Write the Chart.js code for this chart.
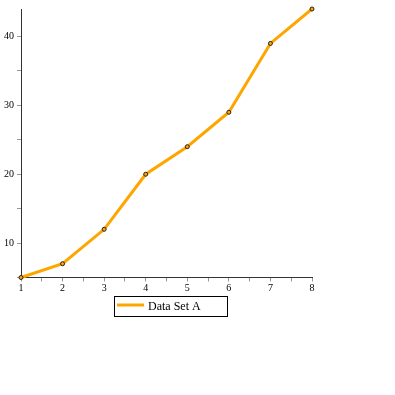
<!DOCTYPE html>
<html>
<head>
<meta charset="utf-8">
<script src="https://cdn.jsdelivr.net/npm/chart.js@4"></script>
<style>
  html, body { margin: 0; padding: 0; background: #fff; }
  canvas { display: block; }
</style>
</head>
<body>
<canvas id="chart" width="395" height="395"></canvas>
<script>
const xVals = [1, 2, 3, 4, 5, 6, 7, 8];
const seriesA = [5, 7, 12, 20, 24, 29, 39, 44];
const seriesLabel = 'Data Set A';
const xTicks = [1, 1.5, 2, 2.5, 3, 3.5, 4, 4.5, 5, 5.5, 6, 6.5, 7, 7.5, 8];
const yTicks = [5, 10, 15, 20, 25, 30, 35, 40];
const yLabels = [10, 20, 30, 40];

const tickFont = { family: 'Liberation Serif', size: 10 };

// boxed legend under the plot, like the original
const boxLegend = {
  id: 'boxLegend',
  afterDraw(chart) {
    const ctx = chart.ctx;
    const ds = chart.data.datasets[0];
    ctx.save();
    ctx.strokeStyle = '#000';
    ctx.lineWidth = 1;
    ctx.strokeRect(114.5, 296.5, 113, 20);
    ctx.strokeStyle = ds.borderColor;
    ctx.lineWidth = 3;
    ctx.beginPath();
    ctx.moveTo(117, 305);
    ctx.lineTo(144, 305);
    ctx.stroke();
    ctx.fillStyle = '#000';
    ctx.font = '12px "Liberation Serif"';
    ctx.textBaseline = 'alphabetic';
    ctx.fillText(ds.label, 148, 310);
    ctx.restore();
  }
};

new Chart(document.getElementById('chart'), {
  type: 'line',
  data: {
    datasets: [{
      label: seriesLabel,
      data: xVals.map((x, i) => ({ x: x, y: seriesA[i] })),
      borderColor: '#FFA500',
      backgroundColor: '#FFA500',
      borderWidth: 3,
      pointRadius: 2,
      pointBorderWidth: 1,
      pointBorderColor: '#222',
      pointBackgroundColor: '#FFA500',
      tension: 0,
      fill: false,
      clip: false
    }]
  },
  options: {
    responsive: false,
    animation: false,
    layout: { padding: { left: 0, top: 8, right: 83, bottom: 0 } },
    plugins: { legend: { display: false }, tooltip: { enabled: false } },
    scales: {
      x: {
        type: 'linear',
        min: 1,
        max: 8,
        afterBuildTicks: (s) => { s.ticks = xTicks.map((v) => ({ value: v })); },
        afterFit: (s) => { s.height = 117.5; },
        ticks: {
          autoSkip: false,
          maxRotation: 0,
          padding: 1,
          color: '#000',
          font: tickFont,
          callback: (v) => (Number.isInteger(v) ? String(v) : '')
        },
        grid: { drawOnChartArea: false, drawTicks: true, tickLength: 4, tickColor: '#999' },
        border: { color: '#333', width: 1 }
      },
      y: {
        min: 5,
        max: 44,
        afterBuildTicks: (s) => { s.ticks = yTicks.map((v) => ({ value: v })); },
        afterFit: (s) => { s.width = 21; },
        ticks: {
          autoSkip: false,
          padding: 3,
          color: '#000',
          font: tickFont,
          callback: (v) => (yLabels.includes(v) ? String(v) : '')
        },
        grid: { drawOnChartArea: false, drawTicks: true, tickLength: 4, tickColor: '#999' },
        border: { color: '#333', width: 1 }
      }
    }
  },
  plugins: [boxLegend]
});
</script>
</body>
</html>
